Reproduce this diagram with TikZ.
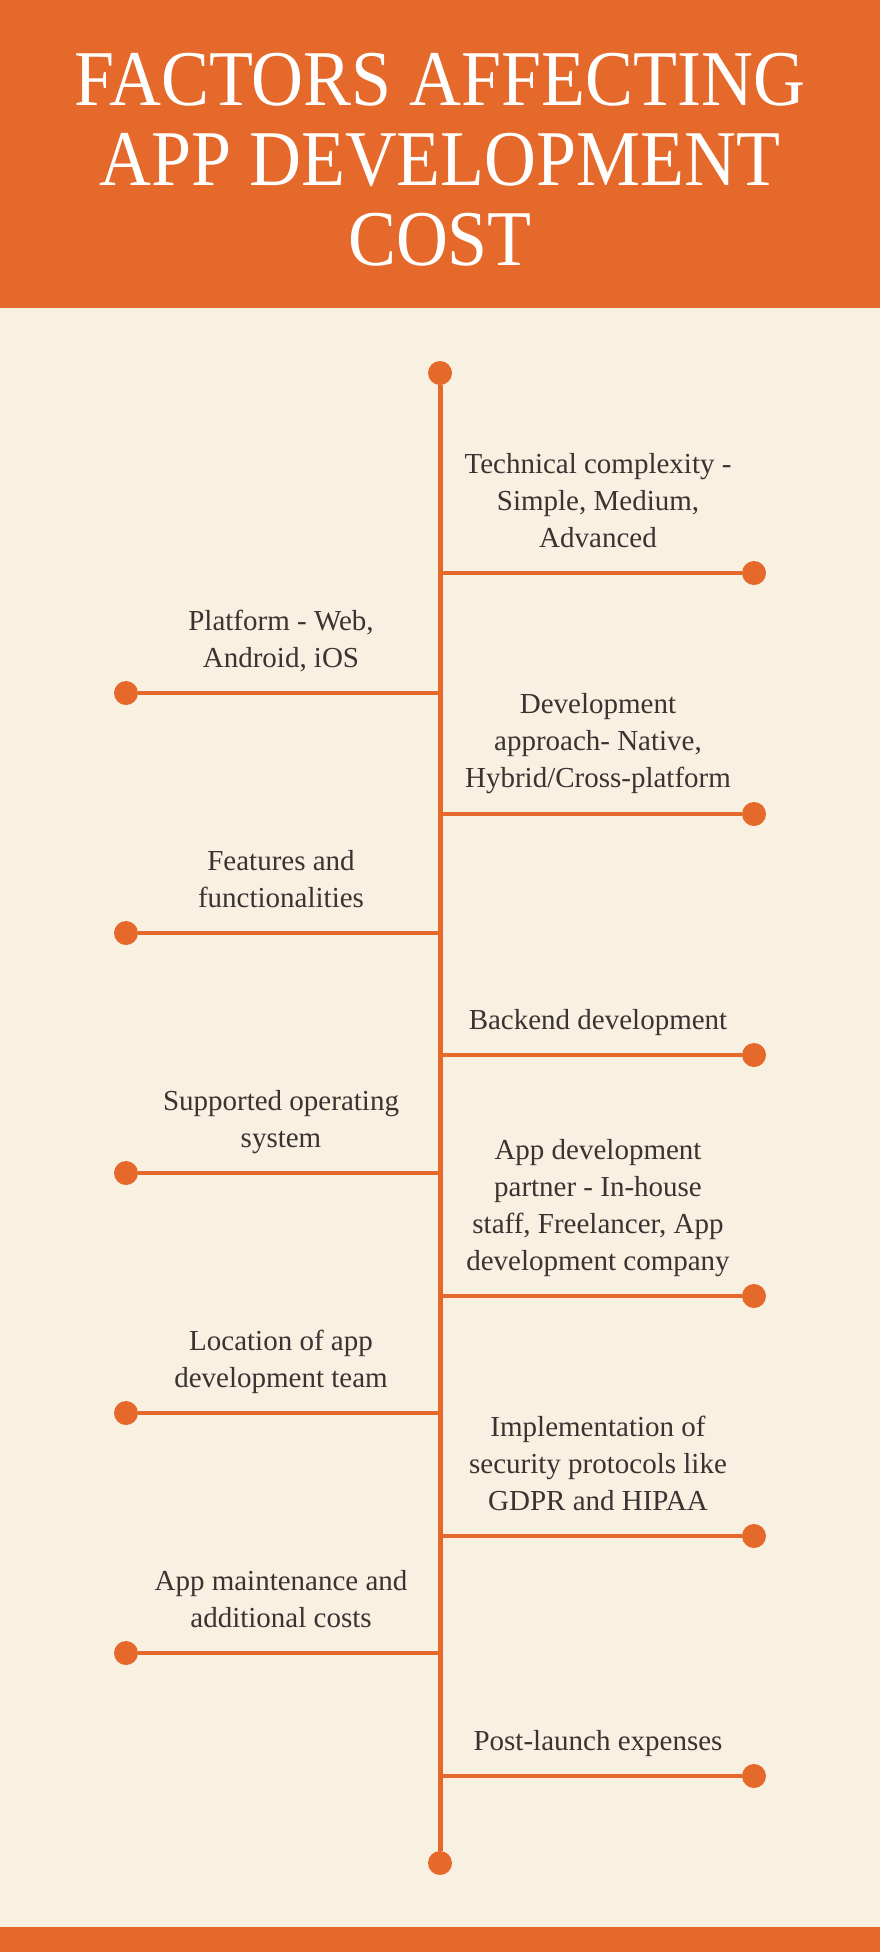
\documentclass[tikz,border=0pt]{standalone}
\usepackage{fontspec}
\setmainfont{Liberation Serif}
\newfontfamily\titelfont[FakeStretch=0.91]{Liberation Serif}
\usepackage{tikz}
\definecolor{oranje}{HTML}{E4692A}
\definecolor{creme}{HTML}{F8F0E0}
\definecolor{inkt}{HTML}{3B3232}
\tikzset{
  % de stip aan het eind van elke tak
  stip/.style={circle, fill=oranje, inner sep=0pt, minimum size=24pt},
  % de lijnen
  ruggengraat/.style={draw=oranje, line width=5pt},
  tak/.style={draw=oranje, line width=4.5pt},
  % teksten (anker = basislijn van de laatste regel)
  titel/.style={text=white, align=center, inner sep=0pt, anchor=base, font=\titelfont\fontsize{79}{80}\selectfont},
  factor/.style={text=inkt, align=center, inner sep=0pt, anchor=base, font=\fontsize{29}{37}\selectfont}
}
\begin{document}
\begin{tikzpicture}[x=1pt, y=1pt]

  % --- ACHTERGROND ---
  \fill[creme]  (0,0) rectangle (880,-1952);
  \fill[oranje] (0,0) rectangle (880,-308);
  \fill[oranje] (0,-1927) rectangle (880,-1952);
  \useasboundingbox (0,0) rectangle (880,-1952);

  \node[titel] (kop) at (440,-265) {FACTORS AFFECTING\\APP DEVELOPMENT\\COST};

  % --- RUGGENGRAAT ---
  \node[stip] (begin) at (440,-373) {};
  \node[stip] (eind)  at (440,-1863) {};
  \draw[ruggengraat] (begin) -- (eind);

  % --- TAKKEN RECHTS ---
  \coordinate (r1) at (440,-573);  \node[stip] (s1)  at (754,-573) {};
  \coordinate (r3) at (440,-814);  \node[stip] (s3)  at (754,-814) {};
  \coordinate (r5) at (440,-1055); \node[stip] (s5)  at (754,-1055) {};
  \coordinate (r7) at (440,-1296); \node[stip] (s7)  at (754,-1296) {};
  \coordinate (r9) at (440,-1536); \node[stip] (s9)  at (754,-1536) {};
  \coordinate (r11) at (440,-1776); \node[stip] (s11) at (754,-1776) {};

  % --- TAKKEN LINKS ---
  \coordinate (l2) at (440,-693);   \node[stip] (s2)  at (126,-693) {};
  \coordinate (l4) at (440,-933);   \node[stip] (s4)  at (126,-933) {};
  \coordinate (l6) at (440,-1173);  \node[stip] (s6)  at (126,-1173) {};
  \coordinate (l8) at (440,-1413);  \node[stip] (s8)  at (126,-1413) {};
  \coordinate (l10) at (440,-1653); \node[stip] (s10) at (126,-1653) {};

  \draw[tak] (r1) -- (s1);  \draw[tak] (l2) -- (s2);
  \draw[tak] (r3) -- (s3);  \draw[tak] (l4) -- (s4);
  \draw[tak] (r5) -- (s5);  \draw[tak] (l6) -- (s6);
  \draw[tak] (r7) -- (s7);  \draw[tak] (l8) -- (s8);
  \draw[tak] (r9) -- (s9);  \draw[tak] (l10) -- (s10);
  \draw[tak] (r11) -- (s11);

  % --- FACTOREN ---
  \node[factor] (f1)  at (598,-547)  {Technical complexity -\\Simple, Medium,\\Advanced};
  \node[factor] (f2)  at (281,-667)  {Platform - Web,\\Android, iOS};
  \node[factor] (f3)  at (598,-787)  {Development\\approach- Native,\\Hybrid/Cross-platform};
  \node[factor] (f4)  at (281,-907)  {Features and\\functionalities};
  \node[factor] (f5)  at (598,-1029) {Backend development};
  \node[factor] (f6)  at (281,-1147) {Supported operating\\system};
  \node[factor] (f7)  at (598,-1270) {App development\\partner - In-house\\staff, Freelancer, App\\development company};
  \node[factor] (f8)  at (281,-1387) {Location of app\\development team};
  \node[factor] (f9)  at (598,-1510) {Implementation of\\security protocols like\\GDPR and HIPAA};
  \node[factor] (f10) at (281,-1627) {App maintenance and\\additional costs};
  \node[factor] (f11) at (598,-1750) {Post-launch expenses};

\end{tikzpicture}
\end{document}
